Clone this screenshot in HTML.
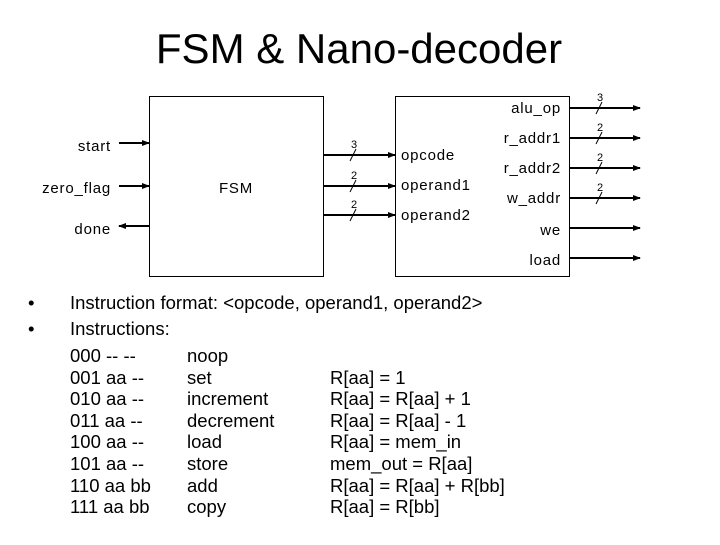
<!DOCTYPE html>
<html><head><style>
body{margin:0;background:#fff;width:720px;height:540px;overflow:hidden;font-family:"Liberation Sans",sans-serif;}
svg text{font-family:"Liberation Sans",sans-serif;}
</style></head><body>
<svg width="720" height="540" xmlns="http://www.w3.org/2000/svg">
<defs><marker id="a" markerWidth="8" markerHeight="6" refX="7" refY="3" orient="auto" markerUnits="userSpaceOnUse"><path d="M0,0 L8,3 L0,6z" fill="#000"/></marker></defs>
<text x="359" y="63" font-size="42" text-anchor="middle">FSM &amp; Nano-decoder</text>
<rect x="149.5" y="96.5" width="174" height="180" fill="none" stroke="#000"/>
<rect x="395.5" y="96.5" width="174" height="180" fill="none" stroke="#000"/>
<g stroke="#000" stroke-width="2" marker-end="url(#a)">
<line x1="119" y1="143" x2="149" y2="143"/>
<line x1="119" y1="186" x2="149" y2="186"/>
<line x1="149" y1="226" x2="119" y2="226"/>
<line x1="323" y1="155" x2="395" y2="155"/>
<line x1="323" y1="186" x2="395" y2="186"/>
<line x1="323" y1="215" x2="395" y2="215"/>
<line x1="569" y1="108" x2="640" y2="108"/>
<line x1="569" y1="138" x2="640" y2="138"/>
<line x1="569" y1="168" x2="640" y2="168"/>
<line x1="569" y1="198" x2="640" y2="198"/>
<line x1="569" y1="228" x2="640" y2="228"/>
<line x1="569" y1="258" x2="640" y2="258"/>
</g>
<g stroke="#000" stroke-width="1">
<line x1="350" y1="161" x2="356" y2="149"/>
<line x1="350" y1="192" x2="356" y2="180"/>
<line x1="350" y1="221" x2="356" y2="209"/>
<line x1="596" y1="114" x2="602" y2="102"/>
<line x1="596" y1="144" x2="602" y2="132"/>
<line x1="596" y1="174" x2="602" y2="162"/>
<line x1="596" y1="204" x2="602" y2="192"/>
</g>
<g font-size="11" text-anchor="middle">
<text x="354" y="148">3</text><text x="354" y="179">2</text><text x="354" y="208">2</text>
<text x="600" y="101">3</text><text x="600" y="131">2</text><text x="600" y="161">2</text><text x="600" y="191">2</text>
</g>
<g font-size="15" letter-spacing="0.8">
<text x="111" y="151" text-anchor="end">start</text>
<text x="111" y="193" text-anchor="end">zero_flag</text>
<text x="111" y="234" text-anchor="end">done</text>
<text x="236" y="193" text-anchor="middle">FSM</text>
<text x="401" y="160">opcode</text>
<text x="401" y="190">operand1</text>
<text x="401" y="220">operand2</text>
<g text-anchor="end">
<text x="561" y="113">alu_op</text>
<text x="561" y="143">r_addr1</text>
<text x="561" y="173">r_addr2</text>
<text x="561" y="203">w_addr</text>
<text x="561" y="235">we</text>
<text x="561" y="265">load</text>
</g>
</g>
<g font-size="18.5">
<text x="28" y="309">•</text><text x="28" y="335">•</text>
<text x="70" y="309">Instruction format: &lt;opcode, operand1, operand2&gt;</text>
<text x="70" y="335">Instructions:</text>
<text x="70" y="362">000 -- --</text><text x="187" y="362">noop</text>
<text x="70" y="384">001 aa --</text><text x="187" y="384">set</text><text x="330" y="384">R[aa] = 1</text>
<text x="70" y="405">010 aa --</text><text x="187" y="405">increment</text><text x="330" y="405">R[aa] = R[aa] + 1</text>
<text x="70" y="427">011 aa --</text><text x="187" y="427">decrement</text><text x="330" y="427">R[aa] = R[aa] - 1</text>
<text x="70" y="448">100 aa --</text><text x="187" y="448">load</text><text x="330" y="448">R[aa] = mem_in</text>
<text x="70" y="470">101 aa --</text><text x="187" y="470">store</text><text x="330" y="470">mem_out = R[aa]</text>
<text x="70" y="492">110 aa bb</text><text x="187" y="492">add</text><text x="330" y="492">R[aa] = R[aa] + R[bb]</text>
<text x="70" y="513">111 aa bb</text><text x="187" y="513">copy</text><text x="330" y="513">R[aa] = R[bb]</text>
</g>
</svg>
</body></html>
